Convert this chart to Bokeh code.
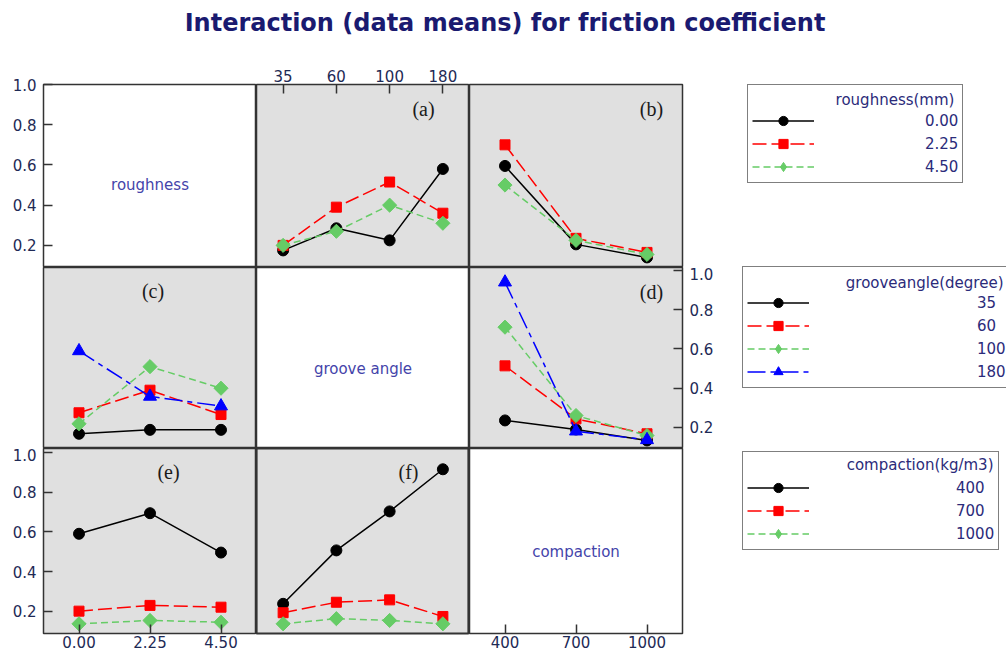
import numpy as np
from bokeh.plotting import figure
from bokeh.models import (Range1d, FactorRange, LinearAxis, CategoricalAxis, FixedTicker,
                          Label, Legend, LegendItem, PrintfTickFormatter)
from bokeh.layouts import gridplot, column, row
from bokeh.embed import file_html
from bokeh.resources import INLINE

TITLE = "Interaction (data means) for friction coefficient"

roughness = ["0.00", "2.25", "4.50"]
groove = ["35", "60", "100", "180"]
compaction = ["400", "700", "1000"]
y_ticks = [0.2, 0.4, 0.6, 0.8, 1.0]

# (a) x = groove angle, series = roughness
a_r000 = [0.175, 0.285, 0.225, 0.58]
a_r225 = [0.20, 0.39, 0.515, 0.36]
a_r450 = [0.20, 0.27, 0.40, 0.31]
# (b) x = compaction, series = roughness
b_r000 = [0.595, 0.205, 0.14]
b_r225 = [0.70, 0.235, 0.165]
b_r450 = [0.50, 0.225, 0.155]
# (c) x = roughness, series = groove angle
c_g35 = [0.168, 0.188, 0.188]
c_g60 = [0.275, 0.39, 0.266]
c_g100 = [0.219, 0.51, 0.40]
c_g180 = [0.59, 0.358, 0.309]
# (d) x = compaction, series = groove angle
d_g35 = [0.236, 0.19, 0.134]
d_g60 = [0.514, 0.244, 0.168]
d_g100 = [0.711, 0.261, 0.159]
d_g180 = [0.94, 0.181, 0.137]
# (e) x = roughness, series = compaction
e_c400 = [0.591, 0.695, 0.496]
e_c700 = [0.20, 0.229, 0.22]
e_c1000 = [0.136, 0.153, 0.144]
# (f) x = groove angle, series = compaction
f_c400 = [0.237, 0.507, 0.704, 0.917]
f_c700 = [0.192, 0.245, 0.257, 0.173]
f_c1000 = [0.136, 0.162, 0.153, 0.136]

COL_W = 213
ROW_H = [183, 181, 185]
LEFT_B, RIGHT_B, TOP_B, BOTTOM_B, TITLE_H = 43, 50, 28, 23, 56
GRID_W = LEFT_B + 3 * COL_W + RIGHT_B
LEG_W = 1006 - GRID_W
Y_RANGES = [(0.09, 1.0), (0.093, 1.015), (0.087, 1.022)]
X_FACTORS = [roughness, groove, compaction]

STYLES = [
    dict(color="black", dash="solid", marker="circle", size=11, angle=0.0, key="circle"),
    dict(color="#ff0000", dash="14 5", marker="square", size=10, angle=0.0, key="square"),
    dict(color="#66cc66", dash="7 4", marker="square", size=10, angle=np.pi / 4, key="diamond"),
    dict(color="#0000ff", dash="18 5 5 5", marker="triangle", size=13, angle=0.0, key="triangle"),
]

TICK_COLOR = "#1e2a55"
TEXT_BLUE = "#4444aa"
LEG_TEXT = "#2b2b7a"
GRAY = "#e0e0e0"


def row_height(r):
    return ROW_H[r] + (TOP_B if r == 0 else 0) + (BOTTOM_B if r == 2 else 0)


def make_fig(r, c):
    w = COL_W + (LEFT_B if c == 0 else 0) + (RIGHT_B if c == 2 else 0)
    p = figure(width=w, height=row_height(r),
               x_range=FactorRange(factors=X_FACTORS[c]),
               y_range=Range1d(*Y_RANGES[r]),
               output_backend="svg", toolbar_location=None,
               x_axis_location=None, y_axis_location=None,
               min_border_left=LEFT_B if c == 0 else 0,
               min_border_right=RIGHT_B if c == 2 else 0,
               min_border_top=TOP_B if r == 0 else 0,
               min_border_bottom=BOTTOM_B if r == 2 else 0,
               background_fill_color="white" if r == c else GRAY,
               border_fill_color="white",
               outline_line_color="#333333", outline_line_width=1.5)
    for g in p.grid:
        g.visible = False
    return p


def style_axis(ax, standoff):
    ax.axis_line_color = None
    ax.major_tick_in = 9
    ax.major_tick_out = 0
    ax.major_tick_line_color = "#333333"
    ax.major_tick_line_width = 1.5
    ax.minor_tick_line_color = None
    ax.major_label_text_font = "DejaVu Sans"
    ax.major_label_text_font_size = "15px"
    ax.major_label_text_color = TICK_COLOR
    ax.major_label_standoff = standoff
    return ax


def y_axis(standoff):
    ax = LinearAxis(ticker=FixedTicker(ticks=y_ticks), formatter=PrintfTickFormatter(format="%.1f"))
    return style_axis(ax, standoff)


def draw_series(p, xs, series_list, visible=True):
    out = []
    for ys, st in zip(series_list, STYLES):
        lr = p.line(x=xs, y=ys, line_color=st["color"], line_width=1.5, line_dash=st["dash"],
                    visible=visible)
        if visible:
            sr = p.scatter(x=xs, y=ys, marker=st["marker"], size=st["size"], angle=st["angle"],
                           fill_color=st["color"], line_color=st["color"])
        else:
            sr = p.scatter(x=xs, y=ys, marker=st["key"], size=st["size"],
                           fill_color=st["color"], line_color=st["color"], visible=False)
        out.append((lr, sr))
    return out


def panel_label(p, x, y, text):
    p.add_layout(Label(x=x, y=y, text=text, text_align="center", text_baseline="middle",
                       text_font="Liberation Serif", text_font_size="20px",
                       text_color="#1a1a1a"))


def diag_label(p, x, text):
    p.add_layout(Label(x=x, y=0.5, text=text, text_align="center", text_baseline="middle",
                       text_font="DejaVu Sans", text_font_size="15px", text_color=TEXT_BLUE))


figs = [[make_fig(r, c) for c in range(3)] for r in range(3)]

# Row 1
f11, fa, fb = figs[0]
diag_label(f11, 1.5, "roughness")
f11.add_layout(y_axis(7), "left")

draw_series(fa, groove, [a_r000, a_r225, a_r450])
panel_label(fa, 3.136, 0.876, "(a)")
fa.add_layout(style_axis(CategoricalAxis(), 3), "above")

draw_series(fb, compaction, [b_r000, b_r225, b_r450])
panel_label(fb, 2.563, 0.876, "(b)")

# Row 2
fc, f22, fd = figs[1]
draw_series(fc, roughness, [c_g35, c_g60, c_g100, c_g180])
panel_label(fc, 1.542, 0.893, "(c)")
diag_label(f22, 2.0, "groove angle")
draw_series(fd, compaction, [d_g35, d_g60, d_g100, d_g180])
panel_label(fd, 2.563, 0.888, "(d)")
fd.add_layout(y_axis(7), "right")

# Row 3
fe, ff, f33 = figs[2]
draw_series(fe, roughness, [e_c400, e_c700, e_c1000])
panel_label(fe, 1.761, 0.901, "(e)")
fe.add_layout(y_axis(7), "left")
fe.add_layout(style_axis(CategoricalAxis(), 2), "below")

draw_series(ff, groove, [f_c400, f_c700, f_c1000])
panel_label(ff, 2.854, 0.901, "(f)")
ff.outline_line_width = 2.2

diag_label(f33, 1.5, "compaction")
f33.add_layout(style_axis(CategoricalAxis(), 2), "below")

# Legend column: one tall figure holding the three keys
GRID_H = sum(row_height(r) for r in range(3))
lf = figure(width=LEG_W, height=GRID_H,
            x_range=FactorRange(factors=roughness + groove + compaction),
            y_range=Range1d(0, GRID_H),
            output_backend="svg", toolbar_location=None,
            x_axis_location=None, y_axis_location=None, min_border=0,
            outline_line_color=None, background_fill_color="white",
            border_fill_color="white")
for g in lf.grid:
    g.visible = False


def add_key(xs, series_list, labels, title, loc, standoff, title_x, title_y):
    rends = draw_series(lf, xs, series_list, visible=False)
    items = [LegendItem(label=lab, renderers=[lr, sr]) for lab, (lr, sr) in zip(labels, rends)]
    lg = Legend(items=items, title=" ", location=loc,
                border_line_color="black", border_line_width=1.5,
                background_fill_alpha=0.0,
                inactive_fill_alpha=0.0,
                padding=4, spacing=0, margin=0,
                glyph_width=62, glyph_height=23, label_height=20,
                label_standoff=standoff,
                label_text_font="DejaVu Sans", label_text_font_size="15px",
                label_text_color=LEG_TEXT, label_text_align="right",
                title_text_font="DejaVu Sans", title_text_font_size="15px",
                title_text_font_style="normal", title_text_color=LEG_TEXT,
                title_standoff=2)
    lf.add_layout(lg, "center")
    lf.add_layout(Label(x=title_x, y=title_y, text=title, text_align="right",
                        text_baseline="middle", text_font="DejaVu Sans",
                        text_font_size="15px", text_color=LEG_TEXT, level="overlay"))


add_key(groove, [a_r000, a_r225, a_r450], roughness, "roughness(mm)",
        (15, 473), 111, 8.10, 557)
add_key(compaction, [d_g35, d_g60, d_g100, d_g180], groove, "grooveangle(degree)",
        (10, 268), 168, 9.89, 374)
add_key(groove, [f_c400, f_c700, f_c1000], compaction, "compaction(kg/m3)",
        (10, 106), 147, 9.526, 192)

# Title
tp = figure(width=1006, height=TITLE_H, x_range=Range1d(0, 1), y_range=Range1d(0, 1),
            output_backend="svg", toolbar_location=None,
            x_axis_location=None, y_axis_location=None, min_border=0,
            outline_line_color=None, background_fill_color="white")
for g in tp.grid:
    g.visible = False
tp.add_layout(Label(x=0.5015, y=0.607, text=TITLE, text_align="center", text_baseline="middle",
                    text_font="DejaVu Sans", text_font_style="bold", text_font_size="24px",
                    text_color="#1a1a70"))

grid = gridplot(figs, toolbar_location=None)
layout = column(tp, row(grid, lf, spacing=0), spacing=0)

open("out.html", "w").write(file_html(layout, INLINE))
